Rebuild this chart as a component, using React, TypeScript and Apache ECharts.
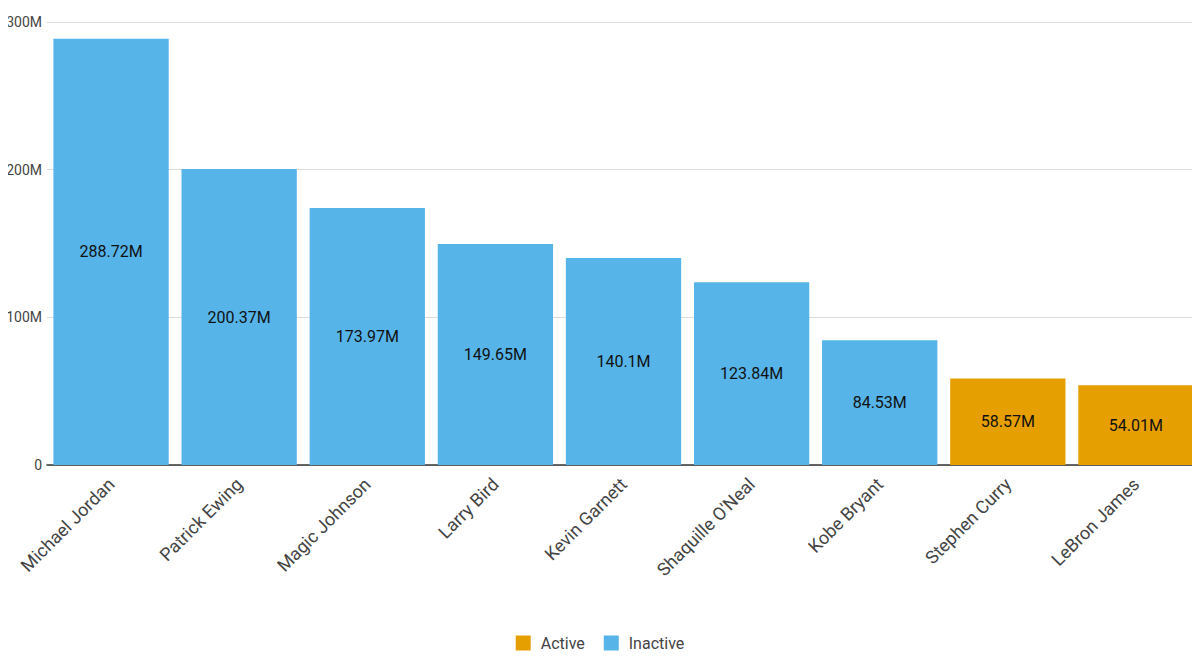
import React, { useEffect, useRef } from "react";
import * as echarts from "echarts";

const players = [
  "Michael Jordan",
  "Patrick Ewing",
  "Magic Johnson",
  "Larry Bird",
  "Kevin Garnett",
  "Shaquille O'Neal",
  "Kobe Bryant",
  "Stephen Curry",
  "LeBron James",
];
const earningsM = [288.72, 200.37, 173.97, 149.65, 140.1, 123.84, 84.53, 58.57, 54.01];
const status = ["Inactive", "Inactive", "Inactive", "Inactive", "Inactive", "Inactive", "Inactive", "Active", "Active"];
const seriesNames = ["Active", "Inactive"];
const colors = ["#E69F00", "#56B4E9"];

export default function App() {
  const ref = useRef<HTMLDivElement>(null);
  useEffect(() => {
    const chart = echarts.init(ref.current!, null, { renderer: "svg" });
    const font = "Roboto, 'Noto Sans', sans-serif";
    chart.setOption({
      animation: false,
      textStyle: { fontFamily: font },
      grid: { left: 47, right: 0, top: 22, bottom: 199, containLabel: false },
      legend: {
        bottom: 8,
        left: "center",
        icon: "rect",
        itemWidth: 15,
        itemHeight: 15,
        itemGap: 19,
        textStyle: { fontSize: 16, color: "#444", fontFamily: font, padding: [0, 0, 0, 5] },
        data: seriesNames,
      },
      xAxis: {
        type: "category",
        data: players,
        axisLine: { lineStyle: { color: "#333", width: 1.5 } },
        axisTick: { alignWithLabel: true, length: 6, lineStyle: { color: "#bbb" } },
        axisLabel: { rotate: 45, fontSize: 18, color: "#444", margin: 16, interval: 0, fontFamily: font },
      },
      yAxis: {
        type: "value",
        min: 0,
        max: 300,
        interval: 100,
        axisLine: { show: false },
        axisTick: { show: false },
        splitLine: { lineStyle: { color: "#dcdcdc" } },
        axisLabel: {
          fontSize: 14,
          color: "#444",
          margin: 5,
          fontFamily: font,
          formatter: (v: number) => (v === 0 ? "0" : v + "M"),
        },
      },
      series: seriesNames.map((name, si) => ({
        name,
        type: "bar",
        stack: "total",
        barCategoryGap: "10%",
        itemStyle: { color: colors[si] },
        label: {
          show: true,
          position: "inside",
          color: "#111",
          fontSize: 16,
          fontFamily: font,
          formatter: (p: any) => p.value + "M",
        },
        data: earningsM.map((v, i) => (status[i] === name ? v : null)),
      })),
    });
    return () => chart.dispose();
  }, []);
  return <div ref={ref} style={{ width: 1200, height: 664, margin: -8 }} />;
}
